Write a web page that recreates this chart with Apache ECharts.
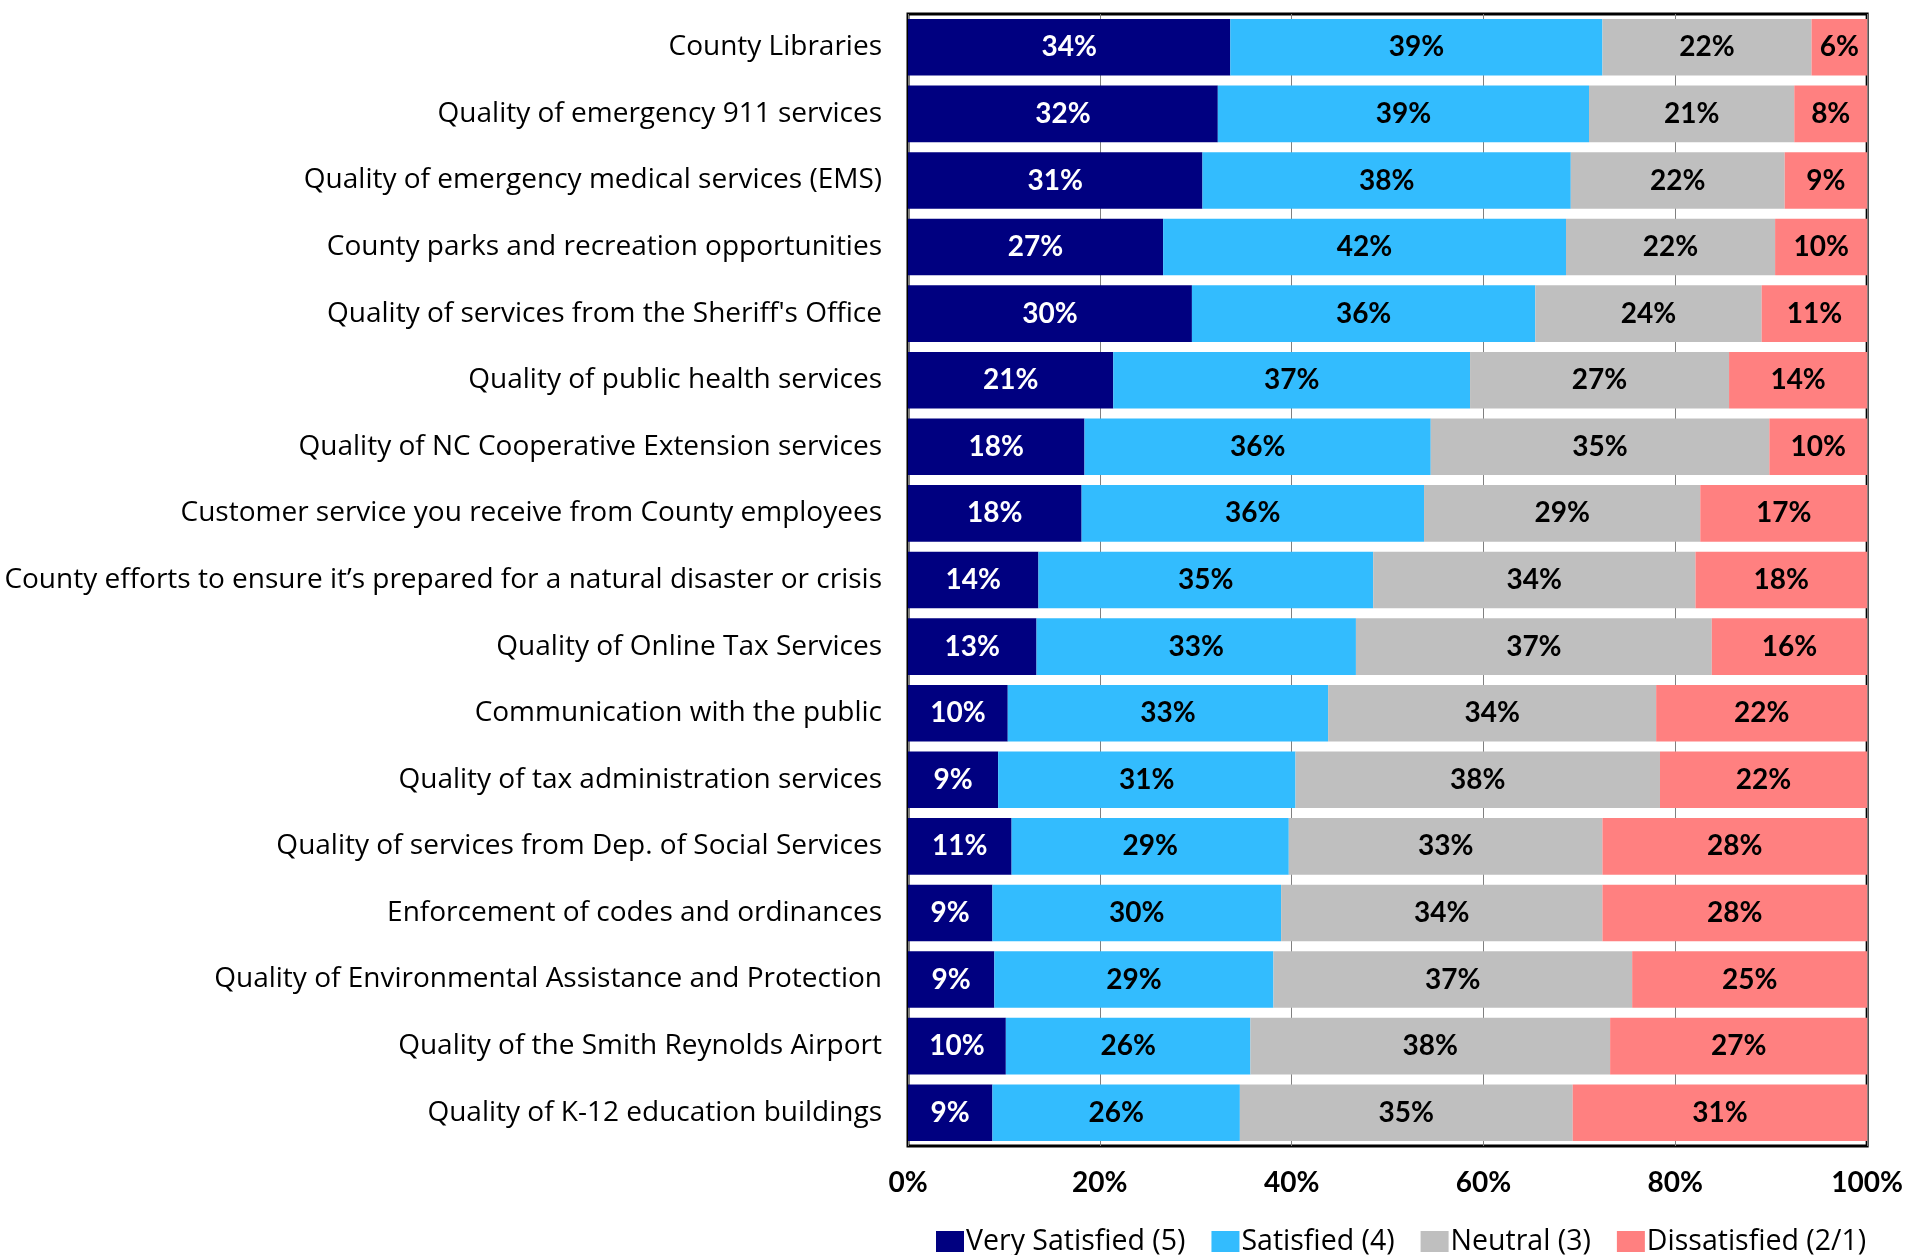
<!DOCTYPE html>
<html>
<head>
<meta charset="utf-8">
<title>County services satisfaction</title>
<script src="https://cdn.jsdelivr.net/npm/echarts@6/dist/echarts.min.js"></script>
<style>
  html, body { margin: 0; padding: 0; background: #fff; }
  #chart { width: 1906px; height: 1255px; }
</style>
</head>
<body>
<div id="chart"></div>
<script>
// categories, top to bottom
const categories = [
  'County Libraries',
  'Quality of emergency 911 services',
  'Quality of emergency medical services (EMS)',
  'County parks and recreation opportunities',
  "Quality of services from the Sheriff's Office",
  'Quality of public health services',
  'Quality of NC Cooperative Extension services',
  'Customer service you receive from County employees',
  'County efforts to ensure it\u2019s prepared for a natural disaster or crisis',
  'Quality of Online Tax Services',
  'Communication with the public',
  'Quality of tax administration services',
  'Quality of services from Dep. of Social Services',
  'Enforcement of codes and ordinances',
  'Quality of Environmental Assistance and Protection',
  'Quality of the Smith Reynolds Airport',
  'Quality of K-12 education buildings'
]

// percentages
const verySatisfied = [33.6, 32.3, 30.7, 26.6, 29.6, 21.4, 18.4, 18.1, 13.6, 13.4, 10.4, 9.4, 10.8, 8.8, 9.0, 10.2, 8.8]
const satisfied = [38.8, 38.7, 38.4, 42.0, 35.8, 37.2, 36.1, 35.7, 34.9, 33.3, 33.4, 31.0, 28.9, 30.1, 29.1, 25.5, 25.8]
const neutral = [21.8, 21.4, 22.3, 21.8, 23.6, 27.0, 35.3, 28.8, 33.6, 37.1, 34.2, 38.0, 32.7, 33.5, 37.4, 37.5, 34.7]
const dissatisfied = [5.8, 7.6, 8.6, 9.6, 11.0, 14.4, 10.2, 17.4, 17.9, 16.2, 22.0, 21.6, 27.6, 27.6, 24.5, 26.8, 30.7]

const seriesNames = ['Very Satisfied (5)', 'Satisfied (4)', 'Neutral (3)', 'Dissatisfied (2/1)']
const seriesColors = ['#000080', '#33BCFE', '#BFBFBF', '#FF8080']
const seriesData = [verySatisfied, satisfied, neutral, dissatisfied]

const xTicks = [0, 20, 40, 60, 80, 100]

const TEXT_FONT = 'Open Sans'
const NUM_FONT = 'Lato'

const chart = echarts.init(document.getElementById('chart'), null, { renderer: 'canvas' })

const series = seriesData.map(function (data, i) {
  return {
    name: seriesNames[i],
    type: 'bar',
    stack: 'total',
    data: data,
    barCategoryGap: '15%',
    itemStyle: { color: seriesColors[i] },
    label: {
      show: true,
      position: 'inside',
      fontFamily: NUM_FONT,
      fontWeight: 'bold',
      fontSize: 28,
      color: i === 0 ? '#ffffff' : '#000000',
      formatter: function (p) { return Math.round(p.value) + '%' }
    }
  }
})

chart.setOption({
  animation: false,
  backgroundColor: '#ffffff',
  textStyle: { fontFamily: TEXT_FONT },
  grid: {
    left: 908,
    right: 38,
    top: 14,
    bottom: 109,
    show: true,
    borderColor: '#000000',
    borderWidth: 3,
    backgroundColor: 'transparent'
  },
  legend: {
    data: seriesNames,
    left: 931,
    top: 1222,
    icon: 'rect',
    itemWidth: 28,
    itemHeight: 21,
    itemGap: 26,
    textStyle: { fontFamily: TEXT_FONT, fontSize: 28.5, color: '#000', padding: [0, 0, 0, -3] }
  },
  xAxis: {
    type: 'value',
    min: xTicks[0],
    max: xTicks[xTicks.length - 1],
    interval: 20,
    axisLine: { show: false },
    axisTick: { show: false },
    splitLine: { show: true, lineStyle: { color: '#808080', width: 1 } },
    axisLabel: {
      fontFamily: NUM_FONT,
      fontWeight: 'bold',
      fontSize: 28,
      color: '#000',
      margin: 23,
      formatter: '{value}%'
    }
  },
  yAxis: {
    type: 'category',
    inverse: true,
    data: categories,
    axisLine: { show: false },
    axisTick: { show: false },
    axisLabel: {
      fontFamily: TEXT_FONT,
      fontSize: 28,
      color: '#000',
      margin: 26
    }
  },
  series: series
})
</script>
</body>
</html>
